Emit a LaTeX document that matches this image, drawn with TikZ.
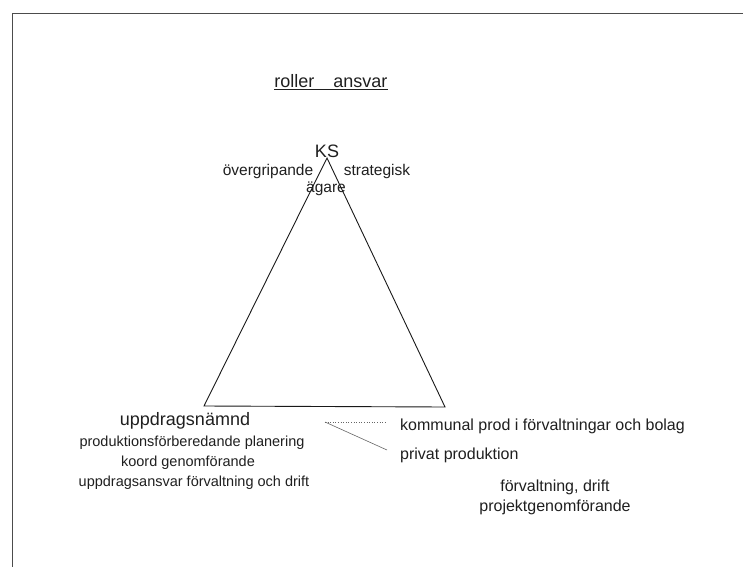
\documentclass[tikz,border=0pt]{standalone}
\usepackage{fontspec}
\setmainfont{Liberation Sans}
\begin{document}
\begin{tikzpicture}[x=1pt,y=-1pt,
  every node/.style={inner sep=0pt,text=black!88},
  big/.style={font=\fontsize{18}{21}\selectfont},
  mid/.style={font=\fontsize{16}{20}\selectfont},
  small/.style={font=\fontsize{15.5}{18}\selectfont},
  lsmall/.style={font=\fontsize{14.5}{18}\selectfont},
  frame/.style={draw=black!70,line width=0.9pt},
  tri/.style={draw=black!90,line width=0.9pt},
  pointer/.style={draw=black!60,line width=0.6pt}]
\useasboundingbox (0,0) rectangle (743,567);
% frame
\coordinate (fTR) at (743,13);
\coordinate (fTL) at (12,13);
\coordinate (fBL) at (12,567);
\draw[frame] (fTR) -- (fTL) -- (fBL);
% title
\node[big] (title) at (331,82) {\underline{roller\hspace{19pt}ansvar}};
% triangle
\coordinate (apex) at (327,158);
\coordinate (bl) at (204,406);
\coordinate (br) at (445,407);
\draw[tri] (apex) -- (bl) -- (br) -- cycle;
\node[big] (ks) at (327,151) {KS};
\node[small] (over) at (268,171) {övergripande};
\node[small] (strat) at (377,171) {strategisk};
\node[small] (agare) at (326,189) {ägare};
% left block
\node[big] (upp) at (185,421) {uppdragsnämnd};
\node[lsmall] (prod) at (192,443) {produktionsförberedande planering};
\node[lsmall] (koord) at (188,463) {koord genomförande};
\node[lsmall] (uansv) at (194,483) {uppdragsansvar förvaltning och drift};
% pointers
\coordinate (v) at (325,422);
\coordinate (p1) at (387,422);
\coordinate (p2) at (387,450);
\draw[pointer,dotted] (v) -- (p1);
\draw[pointer] (v) -- (p2);
\node[mid,anchor=west] (komm) at (400,426) {kommunal prod i förvaltningar och bolag};
\node[mid,anchor=west] (priv) at (400,455) {privat produktion};
\node[mid,align=center] (forv) at (555,497) {förvaltning, drift\\projektgenomförande};
\end{tikzpicture}
\end{document}
